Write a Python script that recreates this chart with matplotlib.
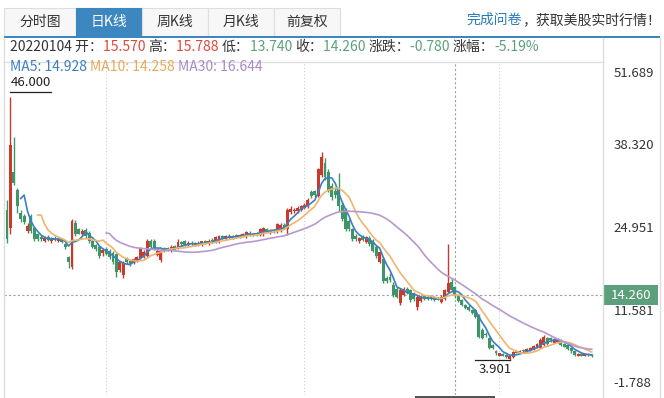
import numpy as np
import pandas as pd
import matplotlib
matplotlib.use("Agg")
import matplotlib.pyplot as plt
from matplotlib.patches import Rectangle
from matplotlib.lines import Line2D

plt.rcParams['font.family'] = ['Noto Sans CJK SC', 'DejaVu Sans']

# daily OHLC
opens = [28.0, 25.1, 34.0, 31.2, 27.5, 26.9, 24.6, 26.9, 25.1, 24.0,
         23.6, 23.0, 23.6, 23.0, 23.5, 23.0, 23.3, 22.4, 20.3, 18.8,
         25.9, 24.8, 24.0, 24.7, 24.3, 22.9, 22.3, 22.0, 21.0, 21.6,
         21.3, 21.0, 20.8, 18.3, 17.5, 20.0, 19.8, 19.4, 19.8, 20.2,
         20.4, 20.6, 23.0, 23.0, 20.7, 19.9, 21.8, 21.8, 21.4, 22.1,
         21.9, 22.8, 22.9, 22.3, 22.7, 22.3, 22.7, 22.4, 22.9, 22.5,
         23.1, 22.8, 22.9, 23.7, 23.3, 23.8, 23.5, 23.9, 23.6, 23.8,
         23.7, 24.3, 23.9, 24.2, 23.9, 24.0, 24.8, 24.3, 24.7, 24.5,
         24.6, 25.5, 24.8, 27.6, 27.7, 27.8, 28.0, 28.3, 28.5, 30.8,
         30.9, 30.2, 33.5, 35.5, 34.0, 31.8, 31.0, 31.2, 28.8, 28.0,
         26.2, 24.8, 23.7, 23.0, 23.7, 22.8, 23.5, 22.9, 22.0, 19.6,
         20.0, 17.0, 17.2, 15.9, 15.2, 13.0, 14.3, 15.3, 15.0, 14.6,
         12.4, 13.3, 14.1, 14.0, 14.1, 13.9, 13.9, 13.2, 13.6, 14.8,
         16.4, 15.57, 14.3, 13.5, 12.7, 12.4, 11.9, 11.9, 11.1, 8.6,
         8.0, 7.4, 6.2, 5.3, 4.5, 4.8, 4.6, 3.95, 4.3, 5.2,
         5.0, 5.4, 5.2, 5.4, 5.6, 5.9, 5.8, 6.3, 7.4, 7.3,
         6.6, 6.8, 7.0, 6.4, 6.2, 5.7, 5.2, 4.5, 4.8, 4.5,
         4.6, 4.7]
highs = [29.6, 46.0, 39.6, 31.5, 28.0, 27.2, 25.8, 27.3, 25.4, 24.3,
         23.9, 23.8, 23.9, 23.6, 23.8, 23.5, 23.5, 22.6, 20.6, 26.4,
         26.3, 25.0, 24.9, 25.0, 24.6, 23.2, 22.5, 22.3, 21.8, 21.9,
         21.6, 21.3, 21.0, 19.8, 19.7, 20.3, 20.1, 20.2, 20.6, 21.9,
         21.5, 23.2, 23.3, 23.2, 21.6, 21.6, 22.0, 22.0, 22.3, 22.3,
         23.2, 23.0, 23.1, 22.9, 22.9, 22.8, 22.9, 23.0, 23.1, 23.2,
         23.4, 23.8, 23.9, 23.9, 23.9, 24.0, 23.9, 24.1, 24.0, 24.2,
         24.6, 24.5, 24.3, 24.4, 25.1, 25.2, 25.0, 24.8, 24.9, 25.8,
         25.8, 25.8, 28.2, 28.5, 28.3, 28.5, 28.8, 29.0, 29.8, 31.1,
         31.2, 34.7, 37.3, 36.3, 34.5, 32.2, 31.4, 33.9, 29.2, 28.3,
         26.5, 25.0, 24.0, 23.6, 23.9, 23.8, 23.8, 23.2, 22.3, 21.3,
         20.3, 17.3, 17.8, 16.4, 15.5, 15.4, 15.6, 15.6, 15.2, 14.8,
         14.2, 14.2, 14.3, 14.2, 14.3, 14.1, 14.0, 14.2, 15.3, 22.4,
         17.0, 15.788, 14.5, 13.7, 12.9, 12.6, 12.1, 12.1, 11.3, 9.0,
         8.3, 7.6, 6.4, 5.5, 5.0, 5.0, 4.8, 4.5, 5.3, 5.4,
         5.4, 5.6, 5.7, 5.9, 6.2, 6.6, 7.3, 7.8, 7.6, 7.5,
         7.4, 7.3, 7.2, 6.6, 6.4, 5.9, 5.4, 5.0, 4.9, 4.9,
         4.9, 4.8]
lows = [22.7, 24.0, 32.0, 27.5, 26.0, 25.6, 24.3, 24.3, 23.0, 23.0,
        22.9, 22.8, 22.9, 22.7, 22.9, 22.8, 22.6, 21.6, 18.6, 18.5,
        23.8, 24.0, 23.8, 23.5, 22.6, 21.8, 21.4, 20.2, 20.6, 20.7,
        20.1, 19.2, 17.2, 18.0, 17.0, 19.3, 19.0, 19.2, 19.6, 20.0,
        20.2, 20.4, 21.7, 21.5, 20.5, 19.6, 21.2, 21.3, 21.2, 21.6,
        21.7, 22.2, 22.1, 22.1, 22.2, 22.1, 22.2, 22.2, 22.4, 22.3,
        22.7, 22.6, 22.7, 23.2, 23.1, 23.3, 23.3, 23.5, 23.4, 23.6,
        23.5, 23.8, 23.7, 23.8, 23.7, 23.8, 24.2, 24.1, 24.2, 24.3,
        24.4, 24.8, 23.9, 27.3, 27.4, 27.5, 27.7, 28.1, 28.3, 29.9,
        30.0, 30.0, 33.2, 32.8, 30.8, 29.6, 29.8, 27.7, 26.1, 24.5,
        24.5, 23.0, 23.0, 22.7, 22.9, 22.6, 22.1, 21.1, 20.2, 19.4,
        16.2, 16.2, 16.4, 14.0, 13.8, 12.6, 14.1, 14.4, 13.2, 13.3,
        11.8, 13.1, 13.5, 13.4, 13.4, 13.3, 13.4, 13.0, 13.4, 14.6,
        14.8, 13.74, 13.1, 12.5, 12.0, 11.7, 11.2, 10.6, 7.4, 7.2,
        7.5, 5.6, 5.6, 4.7, 4.4, 4.4, 4.2, 3.901, 4.2, 4.9,
        4.9, 5.1, 5.1, 5.3, 5.5, 5.8, 5.7, 6.1, 6.2, 6.8,
        6.5, 6.6, 6.1, 5.9, 5.5, 5.0, 4.5, 4.4, 4.4, 4.4,
        4.4, 4.3]
closes = [23.2, 38.3, 32.3, 28.5, 26.5, 26.0, 25.3, 24.5, 23.3, 23.2,
          23.2, 23.5, 23.1, 23.4, 23.1, 23.3, 22.8, 21.9, 19.5, 26.1,
          24.0, 24.1, 24.6, 23.7, 22.9, 22.0, 21.6, 20.5, 21.5, 20.9,
          20.4, 19.6, 18.0, 19.5, 19.4, 19.6, 19.3, 20.0, 20.3, 21.6,
          21.2, 22.9, 21.9, 21.7, 21.3, 21.3, 21.4, 21.5, 22.0, 21.8,
          22.8, 22.4, 22.3, 22.7, 22.4, 22.6, 22.4, 22.9, 22.6, 23.0,
          22.9, 23.6, 23.7, 23.4, 23.7, 23.5, 23.8, 23.7, 23.9, 24.0,
          24.4, 24.0, 24.1, 24.0, 24.9, 25.0, 24.4, 24.6, 24.5, 25.6,
          25.5, 25.1, 28.0, 28.1, 28.0, 28.2, 28.6, 28.8, 29.6, 30.2,
          30.3, 34.5, 36.5, 33.3, 31.0, 30.0, 30.3, 28.5, 26.4, 24.8,
          24.8, 23.3, 23.3, 23.5, 23.1, 23.6, 22.4, 21.4, 20.5, 21.1,
          16.5, 16.5, 16.6, 14.3, 14.0, 15.1, 15.3, 14.6, 13.5, 13.6,
          14.0, 14.0, 13.7, 13.6, 13.6, 13.5, 13.6, 14.0, 15.1, 16.2,
          15.04, 14.26, 13.3, 12.7, 12.2, 11.9, 11.4, 10.8, 7.6, 7.4,
          7.8, 5.8, 5.8, 4.9, 4.9, 4.5, 4.3, 4.4, 5.1, 5.0,
          5.2, 5.2, 5.6, 5.8, 6.1, 6.4, 7.1, 7.5, 6.4, 7.0,
          7.2, 7.1, 6.3, 6.0, 5.6, 5.2, 4.7, 4.8, 4.5, 4.8,
          4.7, 4.5]

y_ticks = [51.689, 38.320, 24.951, 11.581, -1.788]
tabs = ["分时图", "日K线", "周K线", "月K线", "前复权"]
sel_day = 131          # 20220104, under the cursor
sel_date = "20220104"
ma_labels = {5: 14.928, 10: 14.258, 30: 16.644}   # as shown in the legend
grid_days = [29, 87, 144]

RED = '#c93a2c'
GREEN = '#3f9567'
TXT_RED = '#e0473b'
TXT_GREEN = '#5aa276'
MA_COLORS = {5: '#3d7fbf', 10: '#f0b46e', 30: '#b898d0'}
MA_TEXT = {5: '#3d7fbf', 10: '#e9a95c', 30: '#a98bc6'}

W, H = 664, 398
fig = plt.figure(figsize=(W / 100, H / 100), dpi=100)


def fx(x):
    return x / W


def fy(y):
    return 1 - y / H


def hline(x0, x1, y, color, lw=1.0):
    fig.add_artist(Line2D([fx(x0), fx(x1)], [fy(y), fy(y)], color=color, lw=lw,
                          transform=fig.transFigure))


def vline(x, y0, y1, color, lw=1.0):
    fig.add_artist(Line2D([fx(x), fx(x)], [fy(y0), fy(y1)], color=color, lw=lw,
                          transform=fig.transFigure))


renderer = fig.canvas.get_renderer()


def segments(x, y, parts, size):
    for s, col in parts:
        t = fig.text(fx(x), fy(y), s, color=col, fontsize=size, va='center', ha='left')
        x += t.get_window_extent(renderer=renderer).width


# tab bar
tab_x = [4, 76, 142, 208, 274, 340]
for i, name in enumerate(tabs):
    on = (i == 1)
    fig.add_artist(Rectangle((fx(tab_x[i]), fy(36)), (tab_x[i + 1] - tab_x[i]) / W, 28 / H,
                             transform=fig.transFigure,
                             facecolor='#3c87c0' if on else '#f7f7f7',
                             edgecolor='#3c87c0' if on else '#dedede', lw=0.8))
    fig.text(fx((tab_x[i] + tab_x[i + 1]) / 2), fy(22), name, ha='center', va='center',
             fontsize=10, color='white' if on else '#333333')
fig.add_artist(Rectangle((fx(4), fy(38)), 656 / W, 2 / H, transform=fig.transFigure,
                         facecolor='#3c87c0', lw=0))
t = fig.text(fx(661), fy(20), "，获取美股实时行情！", ha='right', va='center', fontsize=10,
             color='#333333')
bb = t.get_window_extent(renderer=renderer)
fig.text(bb.x0 / W, fy(20), "完成问卷", ha='right', va='center', fontsize=10, color='#2a7bbd')

# frame
vline(4, 38, 398, '#dddddd')
vline(603, 38, 398, '#dddddd')
vline(660, 38, 398, '#dddddd')
hline(4, 603, 62, '#dddddd')

# info row
o, h, l, c = opens[sel_day], highs[sel_day], lows[sel_day], closes[sel_day]
prev = closes[sel_day - 1]
chg = c - prev
segments(10, 47, [(sel_date + " 开：", '#333333'), (f"{o:.3f} ", TXT_RED),
                  ("高：", '#333333'), (f"{h:.3f} ", TXT_RED),
                  ("低：", '#333333'), (f"{l:.3f} ", TXT_GREEN),
                  ("收：", '#333333'), (f"{c:.3f} ", TXT_GREEN),
                  ("涨跌：", '#333333'), (f"{chg:.3f} ", TXT_GREEN),
                  ("涨幅：", '#333333'), (f"{chg / prev * 100:.2f}%", TXT_GREEN)],
         10)

# price chart
ax = fig.add_axes([fx(4), fy(395), 599 / W, 333 / H])
ax.axis('off')
n = len(closes)
xs = np.arange(n)
ax.set_xlim(-0.88, 174.3)
ax.set_ylim(y_ticks[-1], y_ticks[0])

for g in grid_days:
    ax.axvline(g, color='#cfcfcf', lw=0.8, ls=(0, (1, 2)), zorder=0)
ax.axvline(sel_day, color='#a0a0a0', lw=0.8, ls=(0, (2, 2)), zorder=0)
ax.axhline(c, color='#a0a0a0', lw=0.8, ls=(0, (2, 2)), zorder=0)

op = np.array(opens)
cl = np.array(closes)
cols = [RED if cl[i] >= op[i] else GREEN for i in range(n)]
ax.vlines(xs, lows, highs, colors=cols, lw=1.0, zorder=2)
body = np.maximum(np.abs(cl - op), 0.18)
ax.bar(xs, body, bottom=np.minimum(op, cl), width=0.86, color=cols, lw=0, zorder=2)

s = pd.Series(closes)
for w, col in MA_COLORS.items():
    ax.plot(xs, s.rolling(w).mean(), color=col, lw=1.2, zorder=3)

# max / min markers
imax = int(np.argmax(highs))
ax.plot([imax, imax + 12], [highs[imax] + 0.95] * 2, color='#222222', lw=0.9)
ax.text(imax + 0.2, highs[imax] + 1.3, f"{highs[imax]:.3f}", fontsize=9.5, color='#222222',
        va='bottom', ha='left')
imin = int(np.argmin(lows))
ax.plot([imin - 10, imin], [lows[imin]] * 2, color='#222222', lw=0.9)
ax.text(imin - 9.2, lows[imin] - 0.5, f"{lows[imin]:.3f}", fontsize=9.5, color='#222222',
        va='top', ha='left')

# y labels on the right
tr = ax.get_yaxis_transform()
for k, v in enumerate(y_ticks):
    va = 'top' if k == 0 else ('bottom' if k == len(y_ticks) - 1 else 'center')
    off = -0.8 if k == 0 else (0.8 if k == len(y_ticks) - 1 else 0)
    ax.text(1.018, v + off, f"{v:.3f}", transform=tr, fontsize=9.5, color='#333333',
            va=va, ha='left', clip_on=False)
ax.add_patch(Rectangle((1.0, c - 1.55), 0.092, 3.1, transform=tr, facecolor='#5b9f7c',
                       edgecolor='none', clip_on=False, zorder=4))
ax.text(1.046, c, f"{c:.3f}", transform=tr, fontsize=9.5, color='white', va='center',
        ha='center', clip_on=False, zorder=5)

# MA legend
segments(10, 67, [(f"MA5: {ma_labels[5]:.3f} ", MA_TEXT[5]),
                  (f"MA10: {ma_labels[10]:.3f} ", MA_TEXT[10]),
                  (f"MA30: {ma_labels[30]:.3f}", MA_TEXT[30])], 10)

# scrollbar stub at the bottom
fig.add_artist(Rectangle((fx(415), 0), 80 / W, 2 / H, transform=fig.transFigure,
                         facecolor='#555555', lw=0))

fig.savefig("out.png", dpi=100)
